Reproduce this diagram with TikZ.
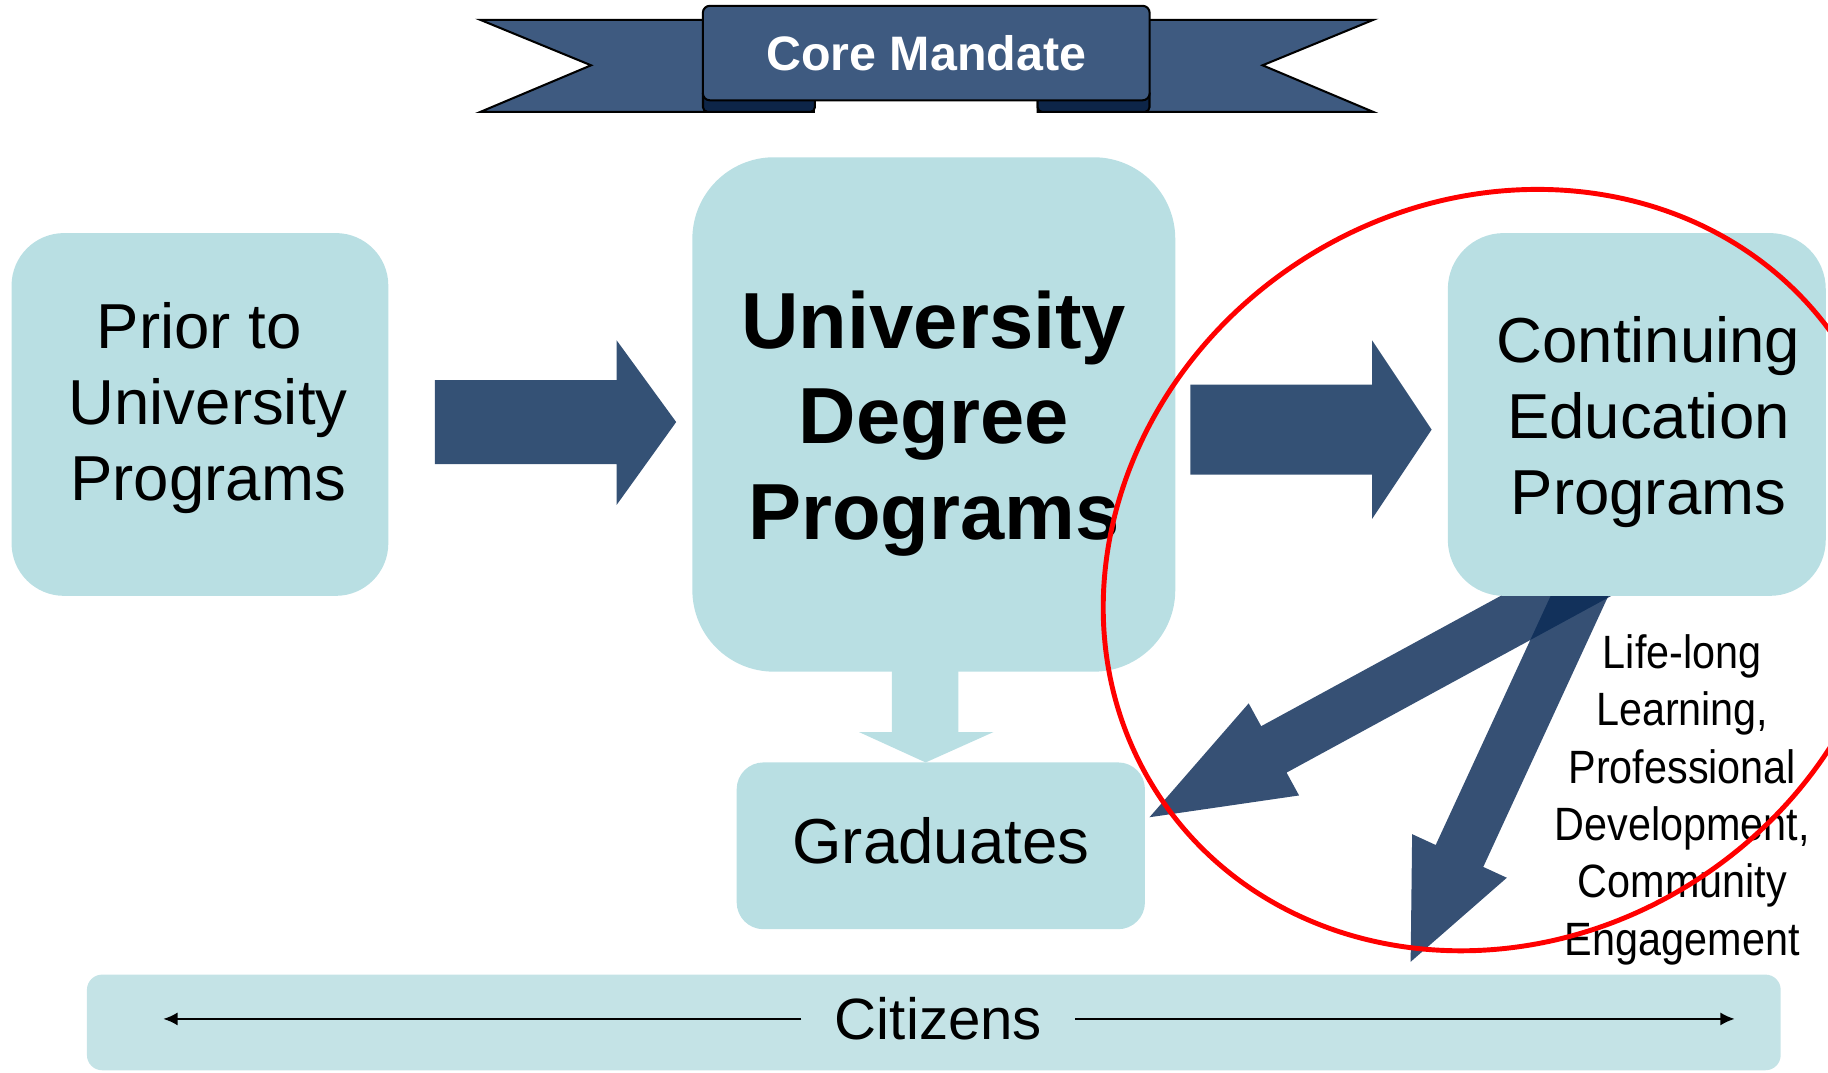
\documentclass[tikz,border=0pt]{standalone}
\usepackage{fontspec}
\setmainfont{Liberation Sans}
\usepackage{graphicx}
\usetikzlibrary{arrows.meta}

\definecolor{boxblue}{HTML}{B9DFE3}
\definecolor{barblue}{HTML}{C4E3E6}
\definecolor{arrowblue}{HTML}{345175}
\definecolor{deepblue}{HTML}{0A2A56}
\definecolor{ribbon}{HTML}{3E5A80}
\definecolor{ribbonfold}{HTML}{0D2548}

\newcommand{\progfont}{\fontsize{15.5pt}{18.6pt}\selectfont}
\newcommand{\degreefont}{\fontsize{19.4pt}{23.3pt}\selectfont\bfseries}
\newcommand{\citfont}{\fontsize{14.2pt}{17pt}\selectfont}
\newcommand{\lifefont}{\fontsize{11.4pt}{14pt}\selectfont}
\newcommand{\mandatefont}{\fontsize{11.8pt}{14pt}\selectfont\bfseries}

\tikzset{
  progbox/.style={fill=boxblue, rounded corners=#1, inner sep=0pt},
  progtext/.style={inner sep=0pt, align=center, font=\progfont},
  ribbonline/.style={draw=black, line width=0.5pt},
  bluearrow/.style={fill=arrowblue},
  seearrow/.style={fill=deepblue, fill opacity=0.82},
  citline/.style={line width=0.55pt, -{Latex[length=3.5pt,width=3.2pt]}},
  ring/.style={draw=red, line width=1.2pt}
}

\begin{document}
\begin{tikzpicture}[x=0.01cm, y=-0.01cm]
                \useasboundingbox (0,0) rectangle (1568,920);
                \clip (0,0) rectangle (1568,920);

                \filldraw[ribbonline, fill=ribbon] (412,17) -- (698,17) -- (698,96) -- (412,96) -- (507,56) -- cycle;
                \filldraw[ribbonline, fill=ribbon] (1178,17) -- (890,17) -- (890,96) -- (1178,96) -- (1083,56) -- cycle;
                \filldraw[ribbonline, fill=ribbonfold, rounded corners=0.04cm] (603,76) rectangle (699,96);
                \filldraw[ribbonline, fill=ribbonfold, rounded corners=0.04cm] (890,76) rectangle (986,96);
                \node[ribbonline, fill=ribbon, rounded corners=0.06cm, minimum width=3.83cm, minimum height=0.81cm,
                      text=white, font=\mandatefont] (mandate) at (794.5,45.5) {Core Mandate};

                \fill[bluearrow] (373,326) -- (529,326) -- (529,292) -- (580,362) -- (529,433) -- (529,398) -- (373,398) -- cycle;
                \fill[bluearrow] (1021,330) -- (1177,330) -- (1177,292) -- (1228,368.5) -- (1177,445) -- (1177,407) -- (1021,407) -- cycle;
                \fill[boxblue] (765,560) -- (822,560) -- (822,628) -- (852,628) -- (794,654) -- (737,628) -- (765,628) -- cycle;

                \fill[seearrow] (1410.9,495.5) -- (1103.6,662.7) -- (1114.3,682.3) -- (986,701) -- (1071.1,603.3) -- (1081.8,622.9) -- (1389.1,455.7) -- cycle;
                \fill[seearrow] (1389.6,489.4) -- (1272.3,743.6) -- (1292.5,752.9) -- (1210,825) -- (1211.3,715.5) -- (1231.5,724.8) -- (1348.8,470.6) -- cycle;

                \node[progbox=0.45cm, minimum width=3.23cm, minimum height=3.11cm] (prior) at (171.5,355.5) {};
                \node[progbox=0.7cm, minimum width=4.14cm, minimum height=4.41cm] (degree) at (801,355.5) {};
                \node[progbox=0.48cm, minimum width=3.24cm, minimum height=3.11cm] (cont) at (1404,355.5) {};
                \node[progbox=0.23cm, minimum width=3.5cm, minimum height=1.43cm] (grads) at (807,725.5) {};

                \node[progtext] (priortext) at (178.5,350) {Prior to\kern0.28em\\University\\Programs};
                \node[progtext, font=\degreefont] (degreetext) at (801,363) {University\\Degree\\Programs};
                \node[progtext] (conttext) at (1414,362) {Continuing\\Education\\Programs};
                \node[progtext] (gradstext) at (807,721.5) {Graduates};

                \node[inner sep=0pt] (lifelong) at (1443,686.5) {\scalebox{0.885}[1]{\lifefont\begin{tabular}{@{}c@{}}Life-long\\Learning,\\Professional\\Development,\\Community\\Engagement\end{tabular}}};

                \node[fill=barblue, rounded corners=0.13cm, minimum width=14.52cm, minimum height=0.82cm] (citizens) at (801,877) {};
                \node[font=\citfont, inner xsep=0.28cm, inner ysep=0pt] (citlbl) at (805,874) {Citizens};
                \coordinate (citL) at (140,874);
                \coordinate (citR) at (1488,874);
                \draw[citline] (citlbl.west) -- (citL);
                \draw[citline] (citlbl.east) -- (citR);

                \draw[ring, rotate around={34:(1286,489)}] (1286,489) ellipse [x radius=3.5cm, y radius=3.15cm];
            %   \draw[ring] (1286,489) circle (3.3cm);
            \end{tikzpicture}
\end{document}
